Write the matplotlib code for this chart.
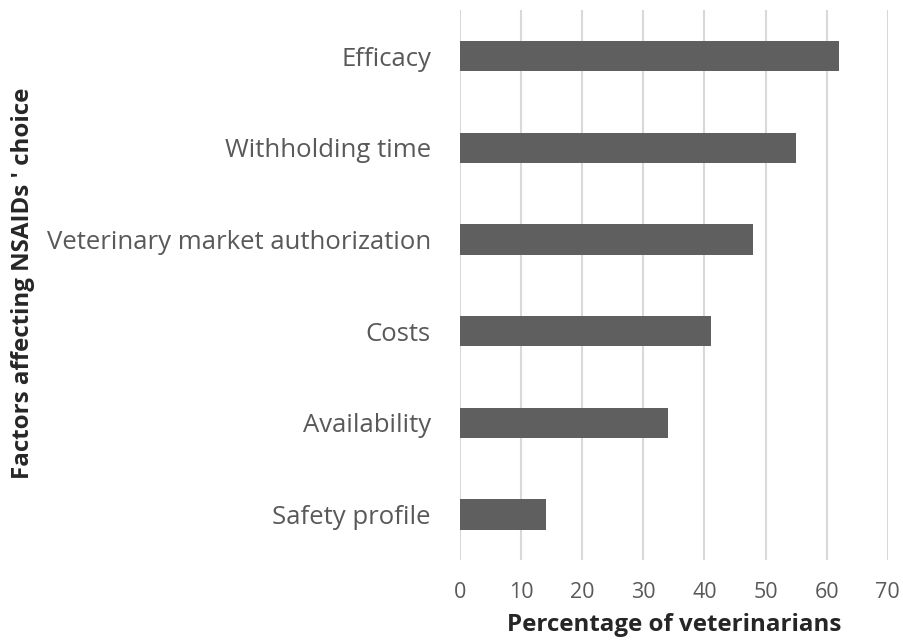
import matplotlib
matplotlib.use("Agg")
import matplotlib.pyplot as plt

# Factors and percentages (bottom to top)
factors = ["Safety profile", "Availability", "Costs",
           "Veterinary market authorization", "Withholding time", "Efficacy"]
percentages = [14, 34, 41, 48, 55, 62]
x_ticks = [0, 10, 20, 30, 40, 50, 60, 70]

plt.rcParams["font.family"] = ["Open Sans", "DejaVu Sans"]

fig = plt.figure(figsize=(9.04, 6.41), dpi=100)
ax = fig.add_axes([0.509, 0.126, 0.473, 0.858])

ax.barh(factors, percentages, height=0.33, color="#5f5f5f", zorder=3)

ax.set_xlim(0, 70)
ax.set_ylim(-0.5, len(factors) - 0.5)
ax.set_xticks(x_ticks)
ax.grid(axis="x", color="#d9d9d9", linewidth=1.5, zorder=0)
for s in ax.spines.values():
    s.set_visible(False)
ax.tick_params(axis="both", length=0, colors="#595959")
ax.tick_params(axis="y", labelsize=18.5, pad=21)
ax.tick_params(axis="x", labelsize=15.5, pad=16)

# axis titles placed in figure coords to match the reference
fig.text(0.7456, 1 - 625 / 641, "Percentage of veterinarians", fontsize=17.4,
         fontweight="bold", color="#262626", ha="center", va="center")
fig.text(0.025, 1 - 283.5 / 641, "Factors affecting NSAIDs ' choice", rotation=90,
         fontsize=17.4, fontweight="bold", color="#262626", ha="center", va="center")

fig.savefig("out.png", dpi=100)
